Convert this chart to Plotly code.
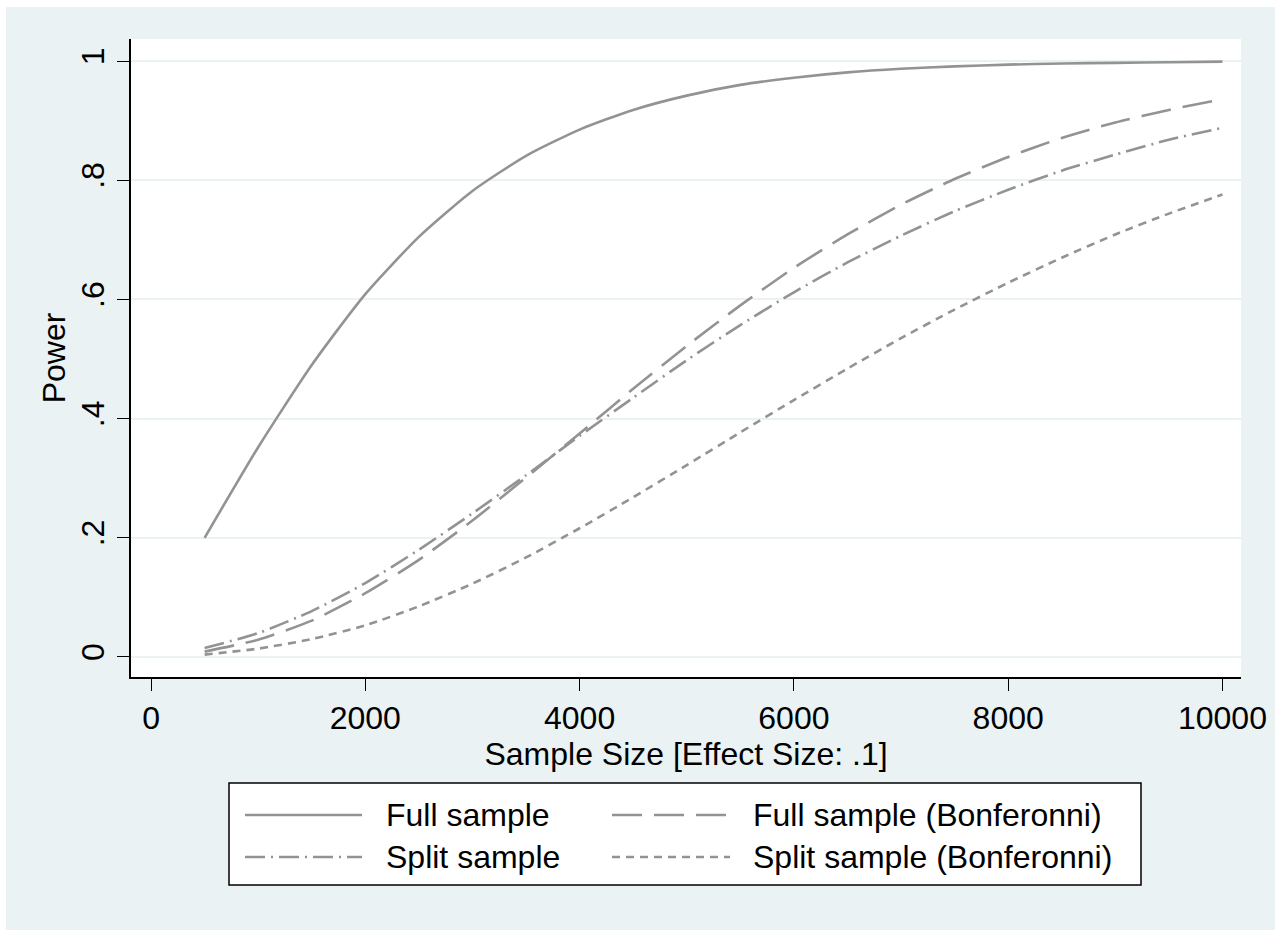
import plotly.graph_objects as go

# ---- data ----
sample_size = [500, 1000, 1500, 2000, 2500, 3000, 3500, 4000, 4500, 5000,
               5500, 6000, 6500, 7000, 7500, 8000, 8500, 9000, 9500, 10000]

full_sample = [0.200, 0.352, 0.490, 0.609, 0.705, 0.782, 0.841, 0.885, 0.918, 0.942,
               0.960, 0.972, 0.981, 0.987, 0.991, 0.994, 0.996, 0.997, 0.998, 0.999]

full_sample_bonf = [0.009, 0.029, 0.061, 0.107, 0.163, 0.229, 0.301, 0.375, 0.450, 0.522,
                    0.590, 0.653, 0.709, 0.759, 0.802, 0.839, 0.871, 0.897, 0.918, 0.936]

split_sample = [0.015, 0.040, 0.077, 0.124, 0.180, 0.241, 0.305, 0.371, 0.435, 0.498,
                0.557, 0.612, 0.662, 0.707, 0.748, 0.784, 0.816, 0.843, 0.868, 0.888]

split_sample_bonf = [0.004, 0.014, 0.030, 0.053, 0.085, 0.123, 0.167, 0.216, 0.268, 0.322,
                     0.377, 0.431, 0.484, 0.535, 0.583, 0.628, 0.670, 0.709, 0.744, 0.776]

series_names = ["Full sample", "Full sample (Bonferonni)",
                "Split sample", "Split sample (Bonferonni)"]

x_tick_values = [0, 2000, 4000, 6000, 8000, 10000]
x_tick_labels = ["0", "2000", "4000", "6000", "8000", "10000"]
y_tick_values = [0, 0.2, 0.4, 0.6, 0.8, 1.0]
y_tick_labels = ["0", ".2", ".4", ".6", ".8", "1"]

x_title = "Sample Size [Effect Size: .1]"
y_title = "Power"

# ---- styling ----
W, H = 1275, 930
ML, MR, MT, MB = 131, 34, 39, 253
PW, PH = W - ML - MR, H - MT - MB
BG = "#EAF2F3"
LINE_COLOR = "#939393"
LINE_W = 2.6
FONT = "Liberation Sans, Arial, Helvetica, sans-serif"
FS = 32
dashes = ["solid", "30px,12px", "20px,6px,2px,6px", "8px,6px"]
series_values = [full_sample, full_sample_bonf, split_sample, split_sample_bonf]


def px_x(px):
    return (px - ML) / PW


def px_y(py):
    return (H - MB - py) / PH


fig = go.Figure()
for name, vals, dash in zip(series_names, series_values, dashes):
    fig.add_trace(go.Scatter(
        x=sample_size, y=vals, mode="lines", name=name,
        line=dict(color=LINE_COLOR, width=LINE_W, dash=dash, shape="spline", smoothing=0.6),
        showlegend=False, hoverinfo="x+y+name",
    ))

shapes = []
# outer graph region (leaves a thin white edge like the reference)
shapes.append(dict(type="rect", xref="paper", yref="paper",
                   x0=px_x(6), x1=px_x(W + 5), y0=px_y(H + 5), y1=px_y(7),
                   fillcolor=BG, line=dict(width=0), layer="below"))
# plot region
shapes.append(dict(type="rect", xref="paper", yref="paper",
                   x0=0, x1=1, y0=0, y1=1,
                   fillcolor="white", line=dict(width=0), layer="below"))
# legend box
shapes.append(dict(type="rect", xref="paper", yref="paper",
                   x0=px_x(229), x1=px_x(1141), y0=px_y(885), y1=px_y(783),
                   fillcolor="white", line=dict(color="black", width=1.5), layer="below"))

annotations = []
key_cols = [(245, 362, 384), (612, 730, 751)]
key_rows = [815, 857]
order = [(0, 0), (0, 1), (1, 0), (1, 1)]  # (row, col) for each series
for i, (r, c) in enumerate(order):
    x0, x1, xt = key_cols[c]
    yy = px_y(key_rows[r])
    shapes.append(dict(type="line", xref="paper", yref="paper",
                       x0=px_x(x0), x1=px_x(x1), y0=yy, y1=yy,
                       line=dict(color=LINE_COLOR, width=LINE_W, dash=dashes[i])))
    annotations.append(dict(xref="paper", yref="paper", x=px_x(xt), y=yy,
                            text=series_names[i], showarrow=False,
                            xanchor="left", yanchor="middle",
                            font=dict(family=FONT, size=FS, color="black")))

fig.update_layout(
    width=W, height=H,
    margin=dict(l=ML, r=MR, t=MT, b=MB, autoexpand=False),
    paper_bgcolor="white",
    plot_bgcolor="rgba(0,0,0,0)",
    font=dict(family=FONT, size=FS, color="black"),
    shapes=shapes,
    annotations=annotations,
    showlegend=False,
    xaxis=dict(
        range=[-187, 10173],
        tickmode="array", tickvals=x_tick_values, ticktext=x_tick_labels,
        ticks="outside", ticklen=12, tickwidth=1.2, tickcolor="black",
        showline=True, linecolor="black", linewidth=1.5,
        showgrid=False, zeroline=False,
        tickfont=dict(family=FONT, size=FS, color="black"),
        title=dict(text=x_title, standoff=0, font=dict(family=FONT, size=FS, color="black")),
        automargin=False,
    ),
    yaxis=dict(
        range=[-0.0336, 1.037],
        tickmode="array", tickvals=y_tick_values, ticktext=y_tick_labels,
        tickangle=-90,
        ticks="outside", ticklen=12, tickwidth=1.2, tickcolor="black",
        showline=True, linecolor="black", linewidth=1.5,
        showgrid=True, gridcolor=BG, gridwidth=2,
        zeroline=False,
        tickfont=dict(family=FONT, size=FS, color="black"),
        title=dict(text=y_title, standoff=0, font=dict(family=FONT, size=FS, color="black")),
        automargin=False,
    ),
)

fig.write_html("out.html")
